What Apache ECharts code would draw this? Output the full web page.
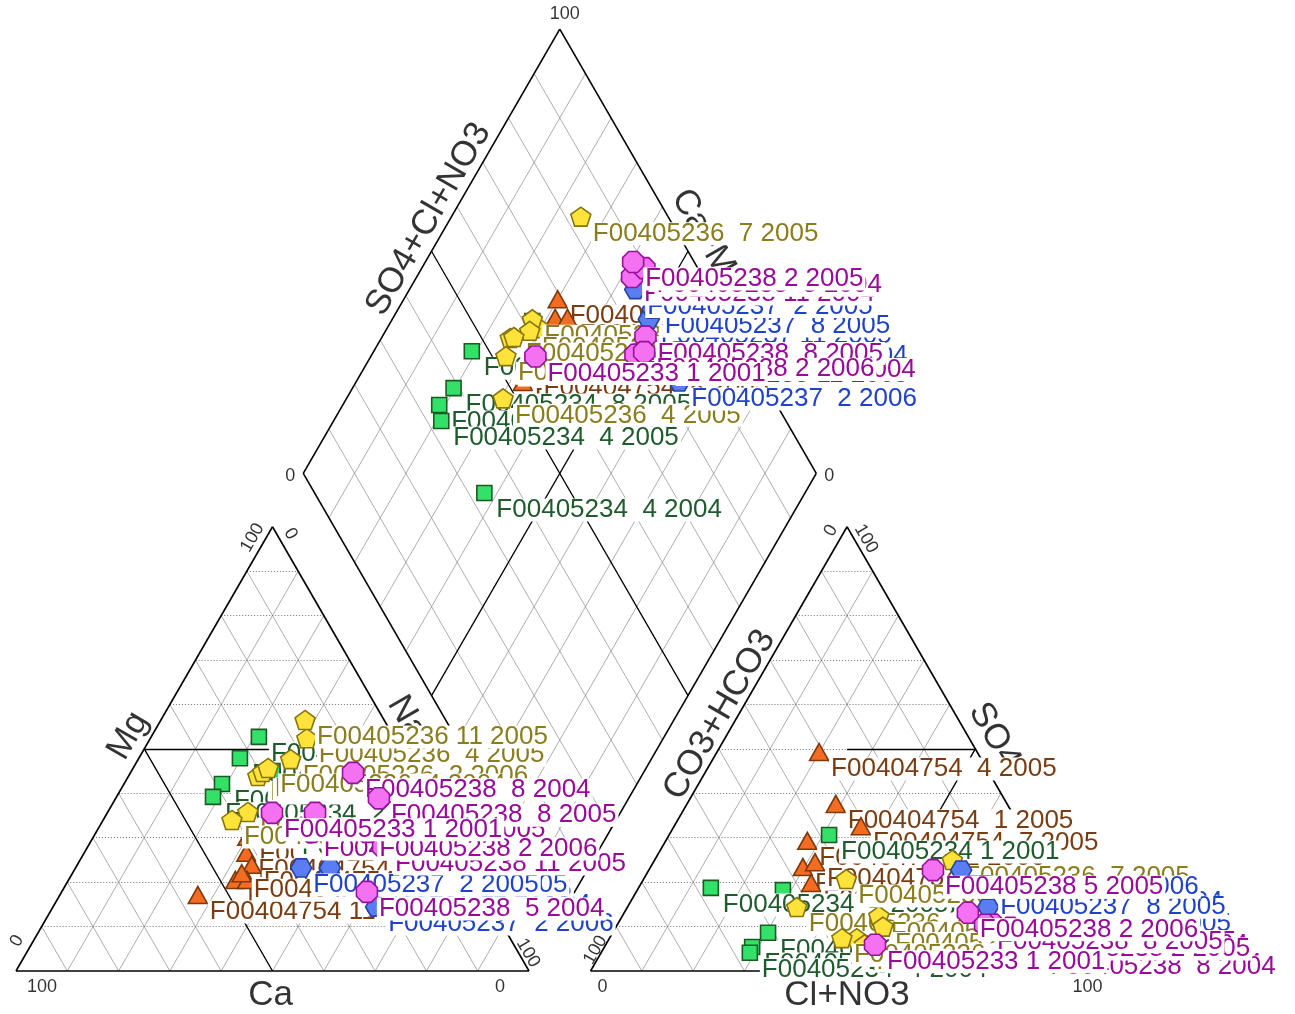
<!DOCTYPE html>
<html>
<head>
<meta charset="utf-8">
<script src="https://cdn.jsdelivr.net/npm/echarts@6/dist/echarts.min.js"></script>
<style>
  html, body { margin: 0; padding: 0; background: #ffffff; }
  #chart { width: 1295px; height: 1014px; }
</style>
</head>
<body>
<div id="chart"></div>
<script>
// ---- Samples: site, month, year (drawing order) ----
const sampleLabels = [
  'F00404754  4 2005', 'F00404754  1 2005', 'F00404754  7 2005', 'F00404754 10 2005',
  'F00404754  2 2006', 'F00404754 11 2004', 'F00404754  8 2005',
  'F00405234  8 2004', 'F00405234  8 2005', 'F00405234  2 2006', 'F00405234  4 2005',
  'F00405234  4 2004', 'F00405234 1 2001',
  'F00405236  7 2005', 'F00405236  4 2005', 'F00405236  2 2006', 'F00405236  8 2004',
  'F00405236 11 2005', 'F00405236  1 2005', 'F00405236  8 2005', 'F00405236  4 2004',
  'F00405237  8 2004', 'F00405237 11 2005', 'F00405237  8 2005', 'F00405237  2 2005',
  'F00405237  2 2006',
  'F00405238 5 2005', 'F00405238 11 2004', 'F00405238  8 2004', 'F00405238 11 2005',
  'F00405238  5 2004', 'F00405238 2 2005', 'F00405238  8 2005', 'F00405238 2 2006',
  'F00405233 1 2001'
];

// Cations, percent of milliequivalents (Ca is the remainder)
const cationMg = [
  30.2, 26.6, 23.9, 20.5, 20.5, 17.1, 22.0,
  42.1, 47.9, 39.2, 52.7, 31.7, 45.0,
  43.9, 52.4, 47.7, 35.8, 56.5, 34.0, 44.8, 45.7,
  18.7, 22.0, 23.2, 23.2, 14.4,
  38.9, 31.3, 44.6, 27.9, 17.8, 35.6, 38.9, 31.3,
  35.6
];
const cationNaK = [
  30.0, 31.6, 34.0, 32.5, 34.8, 26.9, 33.0,
  19.1, 19.7, 18.8, 21.0, 37.5, 27.5,
  25.2, 30.5, 29.7, 27.3, 28.1, 25.1, 25.7, 26.3,
  56.4, 50.0, 49.6, 44.0, 63.0,
  51.4, 42.0, 43.4, 57.6, 59.5, 40.5, 51.3, 52.8,
  32.1
];

// Anions, percent of milliequivalents (CO3+HCO3 is the remainder)
const anionSO4 = [
  49.3, 37.6, 32.6, 23.4, 29.3, 19.8, 24.5,
  18.2, 8.6, 5.4, 18.7, 4.1, 30.6,
  25.0, 14.4, 12.4, 10.0, 20.7, 7.4, 6.0, 7.4,
  19.4, 14.4, 18.2, 9.2, 22.7,
  22.7, 5.4, 4.7, 10.4, 9.7, 8.8, 10.4, 13.1,
  5.9
];
const anionClNO3 = [
  19.9, 29.0, 36.4, 29.7, 27.6, 33.1, 31.5,
  28.4, 30.3, 28.8, 14.1, 29.0, 31.2,
  58.0, 33.0, 50.0, 52.0, 39.5, 48.2, 50.4, 45.3,
  67.2, 70.3, 68.4, 76.2, 60.9,
  55.4, 80.8, 84.9, 73.3, 77.0, 79.3, 71.7, 67.0,
  52.5
];

// Scale end labels and axis titles
const scaleEnds = ['0', '100'];
const axisTitles = ['Ca', 'Mg', 'Na+K', 'Cl+NO3', 'CO3+HCO3', 'SO4', 'SO4+Cl+NO3', 'Ca+Mg'];

// ---- Geometry of the trilinear diagram (units of percent) ----
const H = Math.sqrt(3) / 2;
const GAP = 12;                 // space between the two triangles
const PX = 5.13;                // pixels per percent
const ORIGIN = [16, 971];       // pixel position of the Ca corner
const W = 1295, HGT = 1014;

function cationXY(mg, nak) { return [nak + mg / 2, mg * H]; }
function anionXY(so4, cl) { return [100 + GAP + cl + so4 / 2, so4 * H]; }
function diamondXY(nak, sc) {
  const cm = 100 - nak;
  return [100 + GAP / 2 + 0.5 * (sc - cm), GAP * H + H * (cm + sc)];
}
function shift(p, dx, dy) { return [p[0] + dx / PX, p[1] - dy / PX]; }
function mid(a, b) { return [(a[0] + b[0]) / 2, (a[1] + b[1]) / 2]; }

const LA = cationXY(0, 0), LB = cationXY(0, 100), LC = cationXY(100, 0);
const RA = anionXY(0, 0), RB = anionXY(0, 100), RC = anionXY(100, 0);
const DB = diamondXY(100, 0), DL = diamondXY(0, 0), DR = diamondXY(100, 100), DT = diamondXY(0, 100);

// ---- Line work ----
const outline = [
  [LA, LB], [LB, LC], [LC, LA],
  [RA, RB], [RB, RC], [RC, RA],
  [DB, DL], [DL, DT], [DT, DR], [DR, DB]
];
const solidGrid = [], dottedGrid = [], heavy = [];
for (let k = 10; k < 100; k += 10) {
  // cation triangle: Mg levels dotted, Ca and Na+K levels solid
  dottedGrid.push([cationXY(k, 0), cationXY(k, 100 - k)]);
  solidGrid.push([cationXY(0, 100 - k), cationXY(100 - k, 0)]);
  solidGrid.push([cationXY(0, k), cationXY(100 - k, k)]);
  // anion triangle: SO4 levels dotted, HCO3 and Cl levels solid
  dottedGrid.push([anionXY(k, 0), anionXY(k, 100 - k)]);
  solidGrid.push([anionXY(0, 100 - k), anionXY(100 - k, 0)]);
  solidGrid.push([anionXY(0, k), anionXY(100 - k, k)]);
  // diamond
  if (k !== 50) {
    solidGrid.push([diamondXY(100 - k, 0), diamondXY(100 - k, 100)]);
    solidGrid.push([diamondXY(0, k), diamondXY(100, k)]);
  }
}
heavy.push([diamondXY(50, 0), diamondXY(50, 100)]);
heavy.push([diamondXY(0, 50), diamondXY(100, 50)]);
heavy.push([cationXY(50, 0), cationXY(50, 25)]);
heavy.push([cationXY(0, 50), cationXY(50, 0)]);
heavy.push([anionXY(50, 25), anionXY(50, 50)]);
heavy.push([anionXY(0, 50), anionXY(50, 50)]);

function linesSeries(segs, color, width, type, z) {
  return {
    type: 'lines', coordinateSystem: 'cartesian2d', polyline: false, silent: true,
    z: z, animation: false,
    lineStyle: { color: color, width: width, type: type, opacity: 1 },
    data: segs.map(s => ({ coords: s }))
  };
}

// ---- Text placed around the figure ----
const FONT = "'Liberation Sans', Arial, Helvetica, sans-serif";
const tickLayout = [
  [1, LA, 26, 16, 0], [0, LB, -29, 16, 0],
  [0, LA, 1, -30, 60], [1, LC, -20, 11, 60],
  [0, LC, 18, 7, -60], [1, LB, -1, -18, -60],
  [0, RA, 12, 16, 0], [1, RB, -16, 16, 0],
  [1, RA, 5, -21, 60], [0, RC, -16, 4, 60],
  [1, RC, 19, 12, -60], [0, RB, -1, -30, -60],
  [0, DL, -13, 3, 0], [0, DR, 13, 3, 0], [1, DT, 5, -15, 0]
];
const titleLayout = [
  [0, mid(LA, LB), -2, 24, 0],
  [1, mid(LA, LC), -16, -13, 60],
  [2, mid(LB, LC), 17, -12, -60],
  [3, mid(RA, RB), 0, 24, 0],
  [4, mid(RA, RC), 1, -34, 60],
  [5, mid(RB, RC), 19, -13, -60],
  [6, mid(DL, DT), -3, -32, 60],
  [7, mid(DT, DR), 20, -10, -60]
];

function textSeries(items, size) {
  return {
    type: 'scatter', silent: true, z: 1, animation: false,
    symbolSize: 1, itemStyle: { color: 'rgba(0,0,0,0)' },
    data: items.map(t => ({
      value: shift(t.at, t.dx, t.dy),
      label: {
        show: true, position: 'inside', formatter: t.text, rotate: t.rot,
        color: '#000', fontSize: size, fontFamily: FONT, align: 'center', verticalAlign: 'middle'
      }
    }))
  };
}

// ---- Symbols ----
function polygonPath(n, startDeg) {
  let d = '';
  for (let i = 0; i < n; i++) {
    const a = (startDeg + i * 360 / n) * Math.PI / 180;
    d += (i ? 'L' : 'M') + (10 * Math.cos(a)).toFixed(3) + ',' + (10 * Math.sin(a)).toFixed(3);
  }
  return 'path://' + d + 'Z';
}
const siteStyle = {
  F00404754: { symbol: 'triangle', size: [19, 17], fill: '#F46B22', stroke: '#7C3A0B', text: '#7A3D12' },
  F00405234: { symbol: 'rect', size: 15, fill: '#33E068', stroke: '#1C5A24', text: '#1F5B2D' },
  F00405236: { symbol: polygonPath(5, -90), size: 20, fill: '#FFE23A', stroke: '#85760E', text: '#8A7D1E' },
  F00405237: { symbol: polygonPath(6, 0), size: 21, fill: '#5A7EF2', stroke: '#2443A8', text: '#1F42CC' },
  F00405238: { symbol: polygonPath(8, 22.5), size: 21, fill: '#F472F2', stroke: '#96129A', text: '#990A99' },
  F00405233: { symbol: polygonPath(8, 22.5), size: 21, fill: '#F472F2', stroke: '#96129A', text: '#990A99' }
};

const series = [
  linesSeries(solidGrid, '#8a8a8a', 0.7, 'solid', 1),
  linesSeries(dottedGrid, '#707070', 1, [1, 2], 1),
  linesSeries(heavy, '#000000', 1.3, 'solid', 2),
  linesSeries(outline, '#000000', 1.6, 'solid', 2),
  textSeries(tickLayout.map(t => ({ text: scaleEnds[t[0]], at: t[1], dx: t[2], dy: t[3], rot: t[4] })), 18),
  textSeries(titleLayout.map(t => ({ text: axisTitles[t[0]], at: t[1], dx: t[2], dy: t[3], rot: t[4] })), 35)
];

// one series per sample so that each label covers the samples drawn before it
sampleLabels.forEach((lab, i) => {
  const st = siteStyle[lab.slice(0, 9)];
  const sc = anionSO4[i] + anionClNO3[i];
  series.push({
    type: 'scatter', silent: true, animation: false, z: 10 + i,
    symbol: st.symbol, symbolSize: st.size, symbolKeepAspect: true,
    itemStyle: { color: st.fill, borderColor: st.stroke, borderWidth: 1.6, opacity: 1 },
    label: {
      show: true, position: 'inside', align: 'left', verticalAlign: 'middle',
      offset: [10, 17], formatter: lab, color: st.text, fontSize: 26, fontFamily: FONT,
      backgroundColor: '#ffffff', padding: [0, 2], lineHeight: 23
    },
    data: [
      cationXY(cationMg[i], cationNaK[i]),
      anionXY(anionSO4[i], anionClNO3[i]),
      diamondXY(cationNaK[i], sc)
    ]
  });
});

const chart = echarts.init(document.getElementById('chart'), null, { renderer: 'canvas' });
chart.setOption({
  backgroundColor: '#ffffff',
  animation: false,
  grid: { left: 0, right: 0, top: 0, bottom: 0 },
  xAxis: { type: 'value', show: false, min: -ORIGIN[0] / PX, max: (W - ORIGIN[0]) / PX },
  yAxis: { type: 'value', show: false, min: -(HGT - ORIGIN[1]) / PX, max: ORIGIN[1] / PX },
  series: series
});
</script>
</body>
</html>
